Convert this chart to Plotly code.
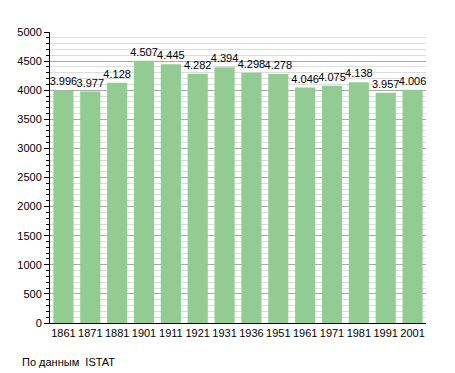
import plotly.graph_objects as go

years = ["1861", "1871", "1881", "1901", "1911", "1921", "1931", "1936", "1951", "1961", "1971", "1981", "1991", "2001"]
population = [3996, 3977, 4128, 4507, 4445, 4282, 4394, 4298, 4278, 4046, 4075, 4138, 3957, 4006]
labels = [f"{v // 1000}.{v % 1000:03d}" for v in population]
y_ticks = [0, 500, 1000, 1500, 2000, 2500, 3000, 3500, 4000, 4500, 5000]

fig = go.Figure()
fig.add_trace(go.Bar(
    x=years, y=population, text=labels, textposition="outside", constraintext="none",
    textfont=dict(size=11, color="#000"), cliponaxis=False,
    marker=dict(color="rgb(146,204,146)", line=dict(width=0)),
    hoverinfo="skip",
))
fig.update_layout(
    width=455, height=373,
    margin=dict(l=50, r=29, t=32, b=50, autoexpand=False),
    paper_bgcolor="white", plot_bgcolor="white",
    font=dict(family="Liberation Sans, Arial, sans-serif", size=11, color="#000"),
    bargap=0.25, showlegend=False,
    xaxis=dict(type="category", showline=True, linecolor="#000", linewidth=1, automargin=False,
               ticks="", showgrid=False, tickfont=dict(size=11)),
    yaxis=dict(range=[0, 5000], tickvals=y_ticks, showline=True, linecolor="#000", linewidth=1,
               automargin=False,
               ticks="outside", ticklen=5, tickcolor="#000",
               showgrid=True, gridcolor="#a8a8a8", gridwidth=1,
               minor=dict(dtick=100, showgrid=True, gridcolor="#dcdcdc", ticks="outside", ticklen=3, tickcolor="#000"),
               zeroline=False, tickfont=dict(size=11)),
    annotations=[dict(text="По данным  ISTAT", x=-30/376, y=-39/291, xref="paper", yref="paper",
                      showarrow=False, xanchor="left", yanchor="middle", font=dict(size=11))],
)
fig.write_html("out.html", config={"displayModeBar": False},
               post_script="document.body.style.margin='0';document.body.style.padding='0';")
